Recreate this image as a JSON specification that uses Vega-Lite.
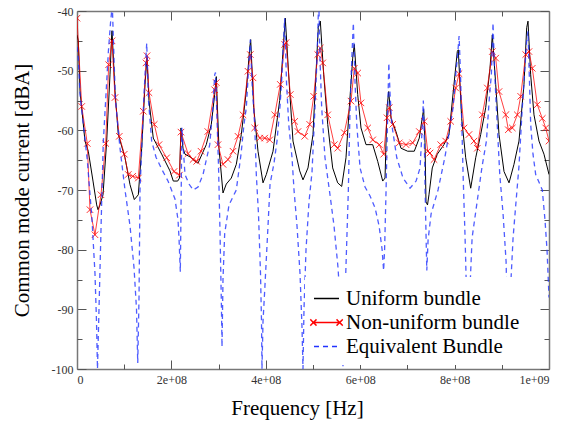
{
  "$schema": "https://vega.github.io/schema/vega-lite/v6.json",
  "width": 472,
  "height": 358,
  "autosize": {"type": "none"},
  "padding": {"left": 77, "top": 11, "right": 28, "bottom": 59},
  "background": "white",
  "datasets": {
    "uniform": [
      {"f":0,"v":-44},{"f":2.8,"v":-45},{"f":6.4,"v":-53.4},{"f":16.9,"v":-61.8},{"f":23.9,"v":-63.5},{"f":33.9,"v":-68.5},{"f":41.7,"v":-72.5},{"f":44.5,"v":-73.3},{"f":48.7,"v":-72.5},{"f":55.1,"v":-70.8},{"f":62.9,"v":-61.8},{"f":69.9,"v":-50.7},{"f":73.5,"v":-44},{"f":74.2,"v":-43.3},{"f":80.5,"v":-53.4},{"f":87.5,"v":-60.7},{"f":101.7,"v":-64.6},{"f":112.3,"v":-69.1},{"f":121.4,"v":-71.6},{"f":129.9,"v":-70.8},{"f":137.1,"v":-63},{"f":144.1,"v":-52.3},{"f":148.3,"v":-47.8},{"f":152.5,"v":-55},{"f":161.6,"v":-61.3},{"f":179.4,"v":-64},{"f":197,"v":-66.8},{"f":204,"v":-68.5},{"f":213.3,"v":-68.5},{"f":217.1,"v":-68},{"f":220.3,"v":-59.6},{"f":224.6,"v":-63},{"f":228.8,"v":-64},{"f":243,"v":-64.6},{"f":245.8,"v":-64.9},{"f":256.4,"v":-65.5},{"f":273.9,"v":-62.4},{"f":284.5,"v":-59},{"f":291.7,"v":-54},{"f":295.1,"v":-51},{"f":300.8,"v":-63},{"f":309.3,"v":-70.5},{"f":316.3,"v":-69},{"f":326.9,"v":-68},{"f":337.5,"v":-65.7},{"f":348.1,"v":-60.7},{"f":358.7,"v":-53.4},{"f":365.9,"v":-46.2},{"f":368,"v":-44.8},{"f":374.4,"v":-56.2},{"f":383.5,"v":-63.5},{"f":394.1,"v":-68.8},{"f":401.1,"v":-67.4},{"f":415.3,"v":-63.5},{"f":429.4,"v":-55},{"f":437.9,"v":-45},{"f":441.3,"v":-41.2},{"f":450.6,"v":-53.4},{"f":457.6,"v":-61.8},{"f":471.8,"v":-66.8},{"f":478.8,"v":-68.3},{"f":489.4,"v":-66.3},{"f":500,"v":-60.7},{"f":502.7,"v":-56.2},{"f":511.2,"v":-42.8},{"f":515.5,"v":-41.7},{"f":522.7,"v":-50.7},{"f":531.2,"v":-59},{"f":541.7,"v":-66.3},{"f":552.3,"v":-68.8},{"f":560.8,"v":-69.4},{"f":569.9,"v":-64.6},{"f":576.9,"v":-56.2},{"f":584.1,"v":-47.9},{"f":587.5,"v":-45.6},{"f":594.7,"v":-54},{"f":601.7,"v":-59.6},{"f":612.3,"v":-62.4},{"f":626.5,"v":-62.4},{"f":637.1,"v":-65.2},{"f":647.7,"v":-68.5},{"f":652.6,"v":-68},{"f":656.8,"v":-56.2},{"f":660.4,"v":-53.5},{"f":665.3,"v":-58},{"f":675.8,"v":-60.2},{"f":686.4,"v":-63},{"f":700.6,"v":-63.5},{"f":714.6,"v":-63.5},{"f":725.2,"v":-61.3},{"f":732.4,"v":-57.4},{"f":734.5,"v":-56.5},{"f":737.3,"v":-62},{"f":739.4,"v":-72},{"f":742.6,"v":-72.5},{"f":745.7,"v":-70.8},{"f":752.7,"v":-66.3},{"f":763.3,"v":-64},{"f":777.5,"v":-62.4},{"f":788.1,"v":-60.7},{"f":798.7,"v":-52.3},{"f":805.7,"v":-46.8},{"f":807.8,"v":-46.5},{"f":815,"v":-58},{"f":823.5,"v":-64.6},{"f":834.1,"v":-69.7},{"f":844.7,"v":-64.6},{"f":855.3,"v":-60.7},{"f":865.9,"v":-56.2},{"f":875,"v":-49.6},{"f":879.9,"v":-44},{"f":887.1,"v":-52.3},{"f":894.1,"v":-60.7},{"f":904.7,"v":-66.9},{"f":915.3,"v":-68.8},{"f":925.8,"v":-65.7},{"f":936.4,"v":-61.8},{"f":947,"v":-52.3},{"f":952.7,"v":-42.8},{"f":955.5,"v":-41.7},{"f":961.2,"v":-50.7},{"f":968.2,"v":-57.4},{"f":978.8,"v":-61.8},{"f":989.4,"v":-64},{"f":1000,"v":-67.4}
    ],
    "nonuniform": [
      {"f":0,"v":-41.2},{"f":10,"v":-56},{"f":21.8,"v":-62.2},{"f":27.5,"v":-73.3},{"f":38.1,"v":-77.5},{"f":50.8,"v":-70.8},{"f":60.8,"v":-62.2},{"f":67.1,"v":-49},{"f":74.2,"v":-45},{"f":80.5,"v":-54.5},{"f":89.6,"v":-61},{"f":100.2,"v":-64},{"f":108.7,"v":-67.4},{"f":118,"v":-67.7},{"f":129.9,"v":-68},{"f":140.5,"v":-56.8},{"f":146.2,"v":-48.7},{"f":148.3,"v":-47.5},{"f":152.5,"v":-53.7},{"f":163.8,"v":-59},{"f":173.7,"v":-62.4},{"f":190,"v":-64.6},{"f":205.5,"v":-66.9},{"f":217.1,"v":-67.5},{"f":220.3,"v":-60.3},{"f":235.2,"v":-63.9},{"f":245.8,"v":-64.9},{"f":253.6,"v":-65.2},{"f":262.7,"v":-63.5},{"f":277.1,"v":-60.2},{"f":291.7,"v":-53.2},{"f":295.1,"v":-52},{"f":298.7,"v":-62.4},{"f":309.3,"v":-65.7},{"f":319.9,"v":-64.9},{"f":330.5,"v":-63.5},{"f":341.1,"v":-61},{"f":351.7,"v":-57.4},{"f":362.3,"v":-50.1},{"f":367.2,"v":-47.3},{"f":372.9,"v":-51.2},{"f":376.5,"v":-59.6},{"f":387.1,"v":-61.3},{"f":397.7,"v":-61.3},{"f":408.3,"v":-61.6},{"f":418.9,"v":-57.4},{"f":430.7,"v":-52.3},{"f":440,"v":-45.6},{"f":442.8,"v":-45.3},{"f":451.9,"v":-54},{"f":461.2,"v":-58.5},{"f":468.2,"v":-60.2},{"f":482.4,"v":-61},{"f":493,"v":-59},{"f":501.5,"v":-54.3},{"f":510,"v":-47.3},{"f":515.5,"v":-46.2},{"f":520.6,"v":-48.7},{"f":531.2,"v":-57.4},{"f":545.2,"v":-62.4},{"f":552.3,"v":-63},{"f":566.3,"v":-60.4},{"f":580.5,"v":-55.1},{"f":587.5,"v":-49.6},{"f":594.7,"v":-50.4},{"f":601.7,"v":-55.4},{"f":615.9,"v":-59.6},{"f":626.5,"v":-61.6},{"f":640.5,"v":-62.4},{"f":649.8,"v":-64},{"f":656.8,"v":-57.9},{"f":661.6,"v":-56.2},{"f":668.8,"v":-59},{"f":682.8,"v":-62.1},{"f":697,"v":-62.4},{"f":711.2,"v":-62.1},{"f":725.2,"v":-60.2},{"f":735.8,"v":-58.5},{"f":743,"v":-63.5},{"f":747.9,"v":-63.8},{"f":756.4,"v":-64.9},{"f":770.6,"v":-62.4},{"f":781.1,"v":-61.8},{"f":791.7,"v":-58.5},{"f":802.3,"v":-52.9},{"f":809.3,"v":-50.5},{"f":819.9,"v":-59.6},{"f":830.5,"v":-60.7},{"f":841.1,"v":-61.8},{"f":848.1,"v":-63},{"f":858.7,"v":-57.4},{"f":869.3,"v":-52.9},{"f":879.9,"v":-46.8},{"f":887.1,"v":-47.9},{"f":894.1,"v":-53.5},{"f":908.3,"v":-57.4},{"f":913.8,"v":-59.9},{"f":922.3,"v":-59.6},{"f":932.9,"v":-57.4},{"f":940,"v":-54.3},{"f":950.6,"v":-47.3},{"f":957.6,"v":-46.8},{"f":964.6,"v":-49.6},{"f":975.2,"v":-55.7},{"f":985.8,"v":-58},{"f":993,"v":-59.6},{"f":1000,"v":-61.8}
    ],
    "equivalent": [
      {"f":0,"v":-46},{"f":2.8,"v":-48},{"f":6.4,"v":-54},{"f":21.8,"v":-65},{"f":31.8,"v":-75},{"f":38.1,"v":-84},{"f":41.3,"v":-92},{"f":43.4,"v":-100},{"f":46.6,"v":-90},{"f":52.3,"v":-72},{"f":55.7,"v":-62},{"f":61.4,"v":-54},{"f":66.3,"v":-47},{"f":71,"v":-42},{"f":73.5,"v":-40},{"f":75.2,"v":-40},{"f":78.4,"v":-48},{"f":81.6,"v":-55},{"f":91.1,"v":-63},{"f":101.7,"v":-70},{"f":112.3,"v":-76},{"f":120.8,"v":-83},{"f":126.1,"v":-90},{"f":128.7,"v":-99},{"f":131.4,"v":-88},{"f":133.5,"v":-70},{"f":137.7,"v":-62},{"f":141.9,"v":-54},{"f":147.7,"v":-45.4},{"f":151.4,"v":-55},{"f":158.2,"v":-61.8},{"f":167.4,"v":-64.5},{"f":179.4,"v":-66.5},{"f":192.8,"v":-68.5},{"f":207.6,"v":-71.5},{"f":214,"v":-75},{"f":216.1,"v":-78},{"f":218.9,"v":-83.7},{"f":220.8,"v":-70},{"f":222.1,"v":-59.5},{"f":228.8,"v":-67.4},{"f":237.3,"v":-69},{"f":246.4,"v":-70},{"f":256.4,"v":-69.5},{"f":267,"v":-67.4},{"f":281.2,"v":-62.4},{"f":288.1,"v":-56},{"f":291.7,"v":-50.7},{"f":293.4,"v":-50.3},{"f":296.6,"v":-58},{"f":299.8,"v":-66},{"f":303,"v":-77},{"f":306.1,"v":-90},{"f":307.2,"v":-96.3},{"f":309.3,"v":-85},{"f":312.9,"v":-77.3},{"f":322,"v":-72.5},{"f":337.5,"v":-70},{"f":347.5,"v":-64},{"f":353.8,"v":-59},{"f":358.7,"v":-56.2},{"f":363.3,"v":-50},{"f":367.2,"v":-44.8},{"f":370.8,"v":-52},{"f":376.5,"v":-59},{"f":379.9,"v":-67.4},{"f":384.5,"v":-74},{"f":388.8,"v":-84},{"f":390.9,"v":-92},{"f":391.9,"v":-100},{"f":394.1,"v":-92},{"f":397.7,"v":-86.8},{"f":404.7,"v":-76},{"f":409,"v":-69},{"f":417.4,"v":-65.5},{"f":423.7,"v":-61.8},{"f":430.1,"v":-56},{"f":434.3,"v":-50.7},{"f":437.5,"v":-45},{"f":440,"v":-41.2},{"f":443.9,"v":-52},{"f":448.6,"v":-59},{"f":455.6,"v":-64.6},{"f":459.8,"v":-70},{"f":466.1,"v":-76},{"f":472.5,"v":-84},{"f":476.7,"v":-93},{"f":478.8,"v":-100},{"f":480.9,"v":-90},{"f":485.2,"v":-80},{"f":491.5,"v":-72},{"f":497.9,"v":-67},{"f":504.2,"v":-56.2},{"f":508.5,"v":-48},{"f":511.2,"v":-40.6},{"f":512.7,"v":-40},{"f":514.8,"v":-48},{"f":518.4,"v":-56.2},{"f":525.4,"v":-64.6},{"f":536,"v":-70.8},{"f":544.5,"v":-76},{"f":553,"v":-83},{"f":559.3,"v":-91},{"f":563.6,"v":-99.6},{"f":567.8,"v":-88},{"f":574.9,"v":-70},{"f":578.5,"v":-56.2},{"f":582.7,"v":-47},{"f":585.5,"v":-42},{"f":589.1,"v":-52},{"f":592.7,"v":-59},{"f":599.7,"v":-66.3},{"f":610.3,"v":-69.5},{"f":620.9,"v":-71},{"f":631.5,"v":-73},{"f":640,"v":-76},{"f":646.4,"v":-80},{"f":649.6,"v":-83.5},{"f":651.7,"v":-80},{"f":654.8,"v":-70},{"f":658,"v":-58},{"f":660.6,"v":-48.7},{"f":663.3,"v":-54},{"f":666.9,"v":-59},{"f":677.5,"v":-64.6},{"f":690.8,"v":-68},{"f":705.6,"v":-69.7},{"f":718.4,"v":-68.5},{"f":726.8,"v":-66.3},{"f":731.1,"v":-60},{"f":733.8,"v":-55},{"f":736,"v":-62},{"f":737.5,"v":-70},{"f":741.1,"v":-83.5},{"f":743.8,"v":-78.4},{"f":750.2,"v":-74},{"f":764.9,"v":-70},{"f":779.2,"v":-64.6},{"f":788.3,"v":-60.5},{"f":796.8,"v":-56.2},{"f":803.1,"v":-50},{"f":805.9,"v":-47.9},{"f":809.5,"v":-44.2},{"f":812.3,"v":-50},{"f":814.4,"v":-56.2},{"f":818,"v":-67.4},{"f":822.2,"v":-78},{"f":825.4,"v":-88},{"f":828.6,"v":-99},{"f":831.8,"v":-88},{"f":837.1,"v":-78},{"f":849.8,"v":-70.8},{"f":858.3,"v":-66},{"f":867.4,"v":-61.8},{"f":874.1,"v":-54},{"f":877.9,"v":-50.7},{"f":881.4,"v":-42},{"f":884.7,"v":-50},{"f":888.5,"v":-56.2},{"f":895.7,"v":-67.4},{"f":902.7,"v":-74},{"f":909.1,"v":-82},{"f":914,"v":-99},{"f":917.6,"v":-88},{"f":923.9,"v":-78},{"f":930.1,"v":-72},{"f":936.4,"v":-66},{"f":943.4,"v":-56.2},{"f":952.7,"v":-45},{"f":955.5,"v":-43.4},{"f":958.7,"v":-52},{"f":961.2,"v":-59},{"f":966.1,"v":-64},{"f":971.8,"v":-67.4},{"f":985.8,"v":-70},{"f":991.5,"v":-75},{"f":995.8,"v":-80},{"f":1000,"v":-88}
    ]
  },
  "config": {
    "view": {"stroke": null},
    "font": "Liberation Serif",
    "axis": {
      "grid": false,
      "domainColor": "#777777",
      "domainWidth": 1.5,
      "tickColor": "#555555",
      "tickWidth": 1,
      "labelFont": "Liberation Serif",
      "labelFontSize": 12,
      "labelColor": "#333333",
      "titleFont": "Liberation Serif",
      "titleFontSize": 21,
      "titleFontWeight": "normal",
      "titleColor": "#000000"
    },
    "legend": {
      "labelFont": "Liberation Serif"
    }
  },
  "resolve": {"axis": {"x": "independent", "y": "independent"}},
  "layer": [
    {
      "data": {"name": "uniform"},
      "mark": {"type": "line", "color": "#1a1a1a", "strokeWidth": 1, "clip": true},
      "encoding": {
        "x": {"field": "f", "type": "quantitative", "scale": {"domain": [0, 1000], "nice": false, "zero": false},
          "axis": {"orient": "bottom", "values": [0, 200, 400, 600, 800, 1000], "tickSize": -9, "labelPadding": 14, "labelExpr": "datum.value == 0 ? '0' : replace(format(datum.value * 1000000, '.0e'), 'e+', 'e+0')", "title": "Frequency [Hz]", "titlePadding": 12, "titleX": 220,
            "labelFont": "Liberation Serif", "titleFont": "Liberation Serif", "labelFontSize": 12, "titleFontSize": 21}},
        "y": {"field": "v", "type": "quantitative", "scale": {"domain": [-100, -40], "nice": false, "zero": false},
          "axis": {"orient": "left", "values": [-100, -90, -80, -70, -60, -50, -40], "tickSize": -9, "labelPadding": 13, "labelExpr": "'' + datum.value", "title": "Common mode current [dBA]", "titlePadding": 19,
            "labelFont": "Liberation Serif", "titleFont": "Liberation Serif", "labelFontSize": 12, "titleFontSize": 21}},
        "color": {"datum": "Uniform bundle", "type": "nominal",
          "scale": {"domain": ["Uniform bundle", "Non-uniform bundle", "Equivalent Bundle"], "range": ["#000000", "#ff0000", "#2233ff"]},
          "legend": {
            "title": null, "orient": "none", "legendX": 228, "legendY": 266, "padding": 8,
            "fillColor": "white", "symbolType": "stroke", "symbolSize": 625, "symbolStrokeWidth": 1.5,
            "labelFont": "Liberation Serif", "labelFontSize": 21, "labelColor": "#000000", "labelOffset": 6, "rowPadding": 0, "labelLimit": 400,
            "encode": {"symbols": {"update": {
              "shape": {"signal": "datum.value == 'Non-uniform bundle' ? 'M-1,0H1M-1.3,-0.25L-0.8,0.25M-1.3,0.25L-0.8,-0.25M0.8,-0.25L1.3,0.25M0.8,0.25L1.3,-0.25' : 'stroke'"},
              "strokeDash": {"signal": "datum.value == 'Equivalent Bundle' ? [5, 4] : [1, 0]"}
            }}}
          }}
      }
    },
    {
      "data": {"name": "nonuniform"},
      "mark": {"type": "line", "strokeWidth": 1, "opacity": 0.75, "clip": true},
      "encoding": {
        "x": {"field": "f", "type": "quantitative", "axis": {"orient": "top", "values": [0, 200, 400, 600, 800, 1000], "tickSize": -9, "labels": false, "title": null}},
        "y": {"field": "v", "type": "quantitative", "axis": {"orient": "right", "values": [-100, -90, -80, -70, -60, -50, -40], "tickSize": -9, "labels": false, "title": null}},
        "color": {"datum": "Non-uniform bundle", "type": "nominal"}
      }
    },
    {
      "data": {"name": "nonuniform"},
      "mark": {"type": "point", "shape": "M-1,-1L1,1M-1,1L1,-1", "filled": false, "size": 42, "strokeWidth": 1, "opacity": 0.8, "clip": true},
      "encoding": {
        "x": {"field": "f", "type": "quantitative", "axis": {"orient": "bottom", "values": [100, 300, 500, 700, 900], "tickSize": -5, "labels": false, "domain": false, "title": null}},
        "y": {"field": "v", "type": "quantitative", "axis": {"orient": "left", "values": [-95, -85, -75, -65, -55, -45], "tickSize": -5, "labels": false, "domain": false, "title": null}},
        "color": {"datum": "Non-uniform bundle", "type": "nominal"}
      }
    },
    {
      "data": {"name": "equivalent"},
      "mark": {"type": "line", "strokeWidth": 1.3, "strokeDash": [5, 4], "opacity": 0.8, "clip": true},
      "encoding": {
        "x": {"field": "f", "type": "quantitative", "axis": {"orient": "top", "values": [100, 300, 500, 700, 900], "tickSize": -5, "labels": false, "domain": false, "title": null}},
        "y": {"field": "v", "type": "quantitative", "axis": {"orient": "right", "values": [-95, -85, -75, -65, -55, -45], "tickSize": -5, "labels": false, "domain": false, "title": null}},
        "color": {"datum": "Equivalent Bundle", "type": "nominal"}
      }
    }
  ]
}
